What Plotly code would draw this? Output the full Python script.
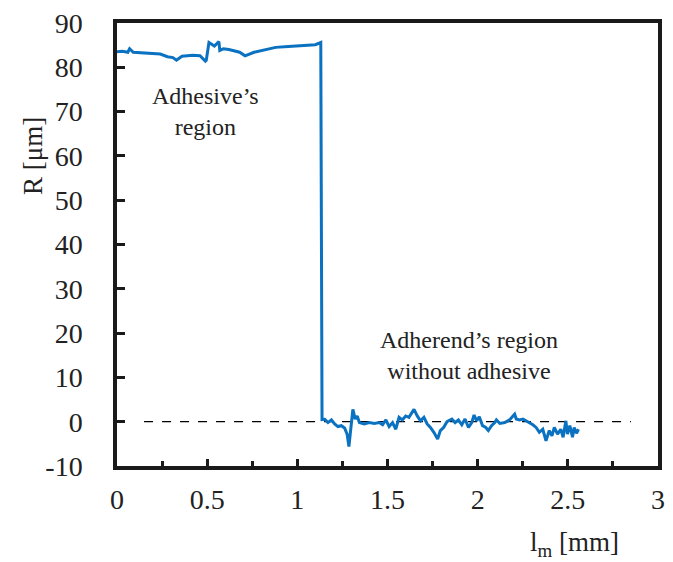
import plotly.graph_objects as go

# Adhesive region profile
adh_x = [0, 0.03, 0.06, 0.07, 0.09, 0.15, 0.24, 0.28, 0.31, 0.33, 0.36, 0.42, 0.46, 0.49, 0.495,
         0.51, 0.54, 0.565, 0.57, 0.59, 0.62, 0.68, 0.71, 0.76, 0.82, 0.88, 0.95, 1.0, 1.06, 1.10, 1.13]
adh_y = [83.5, 83.6, 83.4, 84.2, 83.4, 83.3, 83.0, 82.4, 82.2, 81.6, 82.5, 82.7, 82.6, 81.4, 81.6,
         85.6, 84.8, 85.8, 83.8, 84.2, 84.0, 83.4, 82.6, 83.4, 83.9, 84.5, 84.7, 84.8, 85.0, 85.1, 85.6]

# Adherend region profile (without adhesive)
sub_x = [1.137, 1.152, 1.170, 1.189, 1.207, 1.225, 1.244, 1.262, 1.276, 1.286, 1.295, 1.308, 1.321,
         1.332, 1.344, 1.371, 1.399, 1.427, 1.454, 1.473, 1.491, 1.509, 1.528, 1.546, 1.564, 1.582,
         1.601, 1.619, 1.647, 1.665, 1.683, 1.702, 1.720, 1.738, 1.757, 1.778, 1.793, 1.811, 1.830,
         1.857, 1.875, 1.893, 1.912, 1.930, 1.949, 1.967, 1.980, 1.995, 2.009, 2.027, 2.045, 2.059,
         2.077, 2.095, 2.104, 2.123, 2.150, 2.177, 2.196, 2.205, 2.214, 2.232, 2.251, 2.269, 2.287,
         2.306, 2.324, 2.342, 2.361, 2.379, 2.397, 2.412, 2.425, 2.443, 2.461, 2.474, 2.489, 2.498,
         2.511, 2.526, 2.535, 2.548, 2.559]
sub_y = [0.5, 0.56, -0.2, 0.4, -0.5, -1.1, -0.9, -1.4, -2.8, -5.6, -2.0, 2.8, 0.6,
         1.3, -0.2, -0.5, -0.2, -0.4, -0.2, -0.7, 0.4, -1.1, -0.2, -1.7, 1.0, 0.4,
         1.3, 1.0, 2.8, 1.3, 0.2, 1.0, -0.5, -1.3, -2.4, -3.9, -2.0, -1.3, 0.0,
         0.6, -0.2, 0.4, -0.7, 0.6, -1.3, -0.2, 1.5, 0.2, 1.1, -0.9, -1.3, -2.0,
         -0.9, -0.2, 0.4, -0.4, -0.2, 0.4, 1.3, 1.7, 0.6, 0.4, 0.6, 0.2, -0.2,
         -0.7, -1.3, -2.4, -1.7, -4.3, -2.0, -3.2, -1.3, -2.8, -1.7, -3.5, 0.2, -2.8,
         -0.9, -3.5, -1.3, -2.6, -1.7]

ref_x = [0.15, 2.85]
ref_y = [0, 0]

x_ticks = [0, 0.5, 1, 1.5, 2, 2.5, 3]
y_ticks = [-10, 0, 10, 20, 30, 40, 50, 60, 70, 80, 90]

FONT = "'Liberation Serif', 'Times New Roman', 'DejaVu Serif', serif"
TXT = "#222"

fig = go.Figure()
fig.add_trace(go.Scatter(x=ref_x, y=ref_y, mode="lines",
                         line=dict(color="black", width=1.3, dash="dash"), showlegend=False))
fig.add_trace(go.Scatter(x=adh_x + sub_x, y=adh_y + sub_y, mode="lines",
                         line=dict(color="#0A72C0", width=3), showlegend=False))

fig.update_layout(
    width=673, height=562,
    margin=dict(l=117, r=8, t=20, b=96),
    plot_bgcolor="white", paper_bgcolor="white",
    font=dict(family=FONT, size=28, color=TXT),
)
fig.update_xaxes(range=[0, 3], tickvals=x_ticks, ticktext=[str(v) for v in x_ticks],
                 showgrid=False, zeroline=False, showline=True, mirror=True,
                 linecolor="#1a1a1a", linewidth=3.5, ticks="inside", ticklen=7, tickwidth=3,
                 tickcolor="#1a1a1a", ticklabelstandoff=6,
                 minor=dict(dtick=0.25, tick0=0, ticks="inside", ticklen=5, tickwidth=3,
                            tickcolor="#1a1a1a"))
fig.update_yaxes(range=[-10, 90], tickvals=y_ticks, ticktext=[str(v) for v in y_ticks],
                 showgrid=False, zeroline=False, showline=True, mirror=True,
                 linecolor="#1a1a1a", linewidth=3.5, ticks="inside", ticklen=8, tickwidth=3,
                 tickcolor="#1a1a1a", ticklabelstandoff=25)

fig.add_annotation(text="R [μm]", xref="paper", yref="paper", x=-0.155, y=0.70,
                   xanchor="center", yanchor="middle",
                   textangle=-90, showarrow=False, font=dict(size=27, family=FONT))
fig.add_annotation(text="l<sub>m</sub> [mm]", xref="paper", yref="paper", x=0.845, y=-0.177,
                   xanchor="center", yanchor="middle", showarrow=False,
                   font=dict(size=27, family=FONT))
fig.add_annotation(text="Adhesive’s<br>region", x=0.49, y=70, showarrow=False,
                   font=dict(size=24, family=FONT))
fig.add_annotation(text="Adherend’s region<br>without adhesive", x=1.95, y=15, showarrow=False,
                   font=dict(size=24, family=FONT))

fig.write_html("out.html")
